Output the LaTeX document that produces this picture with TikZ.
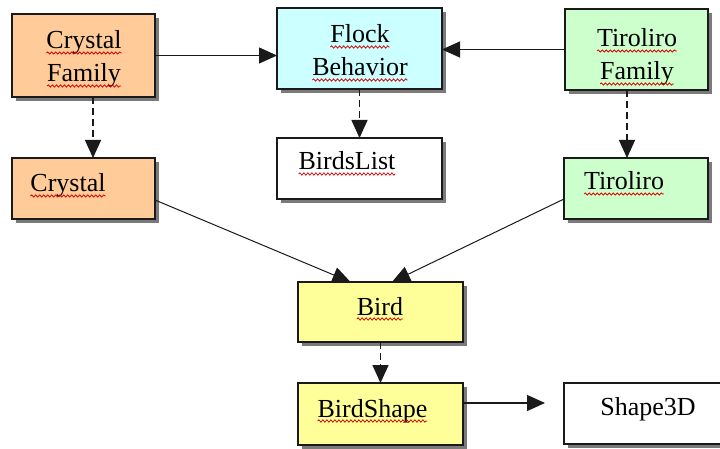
\documentclass[tikz,border=0pt]{standalone}
\usepackage{fontspec}
\setmainfont{Liberation Serif}
\newfontfamily\boxfont{Liberation Serif}
\usetikzlibrary{arrows.meta,shadows,decorations.pathmorphing}

\definecolor{orangebox}{HTML}{FFCC99}
\definecolor{cyanbox}{HTML}{CCFFFF}
\definecolor{greenbox}{HTML}{CCFFCC}
\definecolor{yellowbox}{HTML}{FFFF99}
\definecolor{shadowgray}{HTML}{7A7A7A}
\definecolor{edgegray}{HTML}{1A1A1A}

\tikzset{
  box/.style={draw=edgegray, line width=1.4pt, rectangle, inner sep=0pt, outer sep=0pt,
    drop shadow={shadow xshift=4pt, shadow yshift=-4pt, fill=shadowgray, opacity=1}},
  word/.style={inner sep=0pt, outer sep=0pt, anchor=base,
    font=\boxfont\fontsize{26}{33}\selectfont},
  squiggle/.style={draw=red!85!black, line width=0.8pt, decorate,
    decoration={snake, amplitude=1.1pt, segment length=4pt}},
  tip/.style={-{Triangle[length=18pt,width=16pt]}},
  solidarrow/.style={tip, line width=1.2pt, draw=edgegray},
  thinarrow/.style={tip, line width=1pt, draw=edgegray},
  dasharrow/.style={tip, line width=1.4pt, draw=edgegray, dash pattern=on 7pt off 4pt},
}

% underline a word node with a red wavy line
\newcommand{\wavyline}[1]{\draw[squiggle] ([yshift=-4pt]#1.base west) -- ([yshift=-4pt]#1.base east);}

\begin{document}
\begin{tikzpicture}[x=1pt, y=-1pt]
  \useasboundingbox (0,0) rectangle (720,449);
  \fill[white] (0,0) rectangle (720,449);

  % boxes
  \node[box, fill=orangebox, minimum width=143pt, minimum height=83pt] (cf) at (83.5,55.5) {};
  \node[box, fill=orangebox, minimum width=143pt, minimum height=61pt] (cr) at (83.5,188.5) {};
  \node[box, fill=cyanbox, minimum width=165pt, minimum height=81pt] (fb) at (359.5,48.5) {};
  \node[box, fill=white, minimum width=165pt, minimum height=61pt] (bl) at (359.5,168.5) {};
  \node[box, fill=greenbox, minimum width=143pt, minimum height=81pt] (tf) at (636.5,49.5) {};
  \node[box, fill=greenbox, minimum width=144pt, minimum height=61pt] (ti) at (636,188.5) {};
  \node[box, fill=yellowbox, minimum width=165pt, minimum height=60pt] (bd) at (380.5,312) {};
  \node[box, fill=yellowbox, minimum width=165pt, minimum height=62pt] (bs) at (380.5,414) {};
  \node[box, fill=white, minimum width=165pt, minimum height=61pt] (s3) at (646.5,413.5) {};

  % texts
  \node[word] (cfa) at (84,49) {Crystal};
  \node[word] (cfb) at (84,82) {Family};
  \node[word] (cra) at (68,192) {Crystal};
  \node[word] (fba) at (360,43) {Flock};
  \node[word] (fbb) at (360,76) {Behavior};
  \node[word] (bla) at (347,170) {BirdsList};
  \node[word] (tfa) at (637,47) {Tiroliro};
  \node[word] (tfb) at (637,80) {Family};
  \node[word] (tia) at (624,190) {Tiroliro};
  \node[word] (bda) at (380,315) {Bird};
  \node[word] (bsa) at (372.5,417) {BirdShape};
  \node[word] (s3a) at (648,415) {Shape3D};

  % spelling marks under the words
  \foreach \w in {cfa,cfb,cra,fba,fbb,bla,tfa,tfb,tia,bda,bsa} {\wavyline{\w}}

  % connectors
  \draw[solidarrow] (cf.east) -- (fb.west |- cf.east);
  \draw[solidarrow] (tf.west) -- (fb.east |- tf.west);
  \draw[dasharrow] ([xshift=9.5pt]cf.south) -- ([xshift=9.5pt]cr.north);
  \draw[dasharrow] (fb.south) -- (bl.north);
  \draw[dasharrow] ([xshift=-9.5pt]tf.south) -- ([xshift=-9pt]ti.north);
  \draw[thinarrow] ([yshift=-11.5pt]cr.east) -- ([xshift=-30pt]bd.north);
  \draw[thinarrow] ([yshift=-10.5pt]ti.west) -- ([xshift=11.5pt]bd.north);
  \draw[dasharrow] (bd.south) -- (bs.north);
  \coordinate (bsout) at ([yshift=11pt]bs.east);
  \draw[solidarrow, shorten >=19pt] (bsout) -- (bsout -| s3.west);
\end{tikzpicture}
\end{document}
